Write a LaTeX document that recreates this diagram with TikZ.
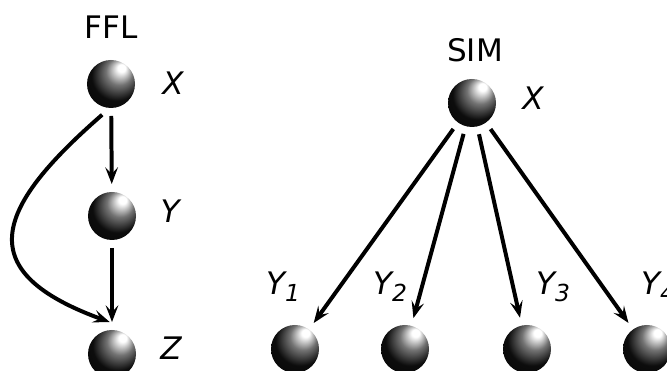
\documentclass[tikz,border=0pt]{standalone}
\usepackage{fontspec}
\setmainfont{DejaVu Sans}
\usetikzlibrary{arrows.meta}
\pgfdeclareradialshading{glossy}{\pgfpoint{12bp}{18bp}}{color(0bp)=(white); color(4bp)=(white); color(14bp)=(black!55); color(26bp)=(black!95); color(50bp)=(black)}
\newcommand{\simidx}[1]{\raisebox{-6pt}{\fontsize{20}{24}\selectfont #1}}

\begin{document}
\begin{tikzpicture}[
    x=0.03cm, y=0.03cm,
    bead/.style={circle, shade, shading=glossy, minimum size=1.44cm,
                 inner sep=0pt, outer sep=0.24cm},
    lab/.style={font=\fontsize{26.5}{32}\selectfont\itshape, inner sep=0pt},
    head/.style={font=\fontsize{26.5}{32}\selectfont, inner sep=0pt},
    arr/.style={-{Stealth[length=0.5cm, width=0.38cm, inset=0.2cm]}, line width=3.4pt}
]
\useasboundingbox (0,0) rectangle (667,371);

% feed-forward loop
\node[head] (fflt) at (111,344) {FFL};
\node[bead] (fX) at (111,287) {};
\node[lab]  (fXl) at (173,288) {X};
\node[bead] (fY) at (112,155) {};
\node[lab]  (fYl) at (170,160) {Y};
\node[bead] (fZ) at (112,17) {};
\node[lab]  (fZl) at (171,23) {Z};

\draw[arr] (fX) -- (fY);
\draw[arr] (fY) -- (fZ);
\draw[arr] (fX.254) to[out=221, in=160, looseness=1.8] (fZ.94);

% single input module
\node[head] (simt) at (475,321) {SIM};
\node[bead] (sX) at (472,268) {};
\node[lab]  (sXl) at (533,273) {X};
\foreach \i/\x in {1/295, 2/405, 3/527, 4/647} {
    \node[bead] (s\i) at (\x,22) {};
    \draw[arr] (sX) -- (s\i);
}
\node[lab] (s1l) at (283,84) {Y\simidx{1}};
\node[lab] (s2l) at (390,84) {Y\simidx{2}};
\node[lab] (s3l) at (553,84) {Y\simidx{3}};
\node[lab] (s4l) at (658,84) {Y\simidx{4}};
\end{tikzpicture}
\end{document}
